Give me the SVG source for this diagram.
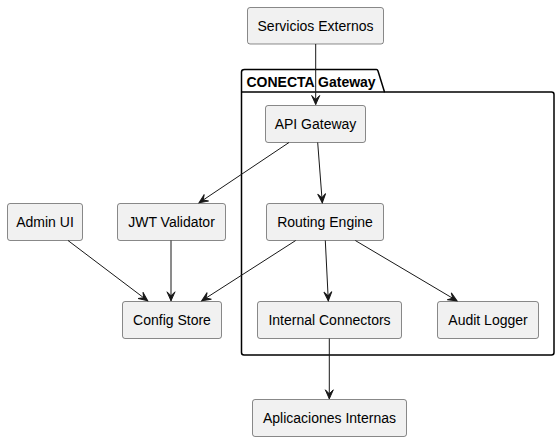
<svg xmlns="http://www.w3.org/2000/svg" width="560" height="441" viewBox="0 0 560 441">
<style>
.node rect{fill:#F1F1F1;stroke:#181818;stroke-width:0.5}
.node text{font-family:"Liberation Sans",Arial,sans-serif;font-size:14px;fill:#000;text-anchor:middle}
.conn line{stroke:#181818;stroke-width:1}
.pkg{fill:none;stroke:#000;stroke-width:1.5}
.pkgt{font-family:"Liberation Sans",Arial,sans-serif;font-size:14px;font-weight:bold;fill:#000}
</style>
<defs>
<marker id="ah" markerUnits="userSpaceOnUse" markerWidth="12" markerHeight="12" viewBox="-10 -6 12 12" refX="0" refY="0" orient="auto">
<path d="M0,0 L-9,-4 L-5,0 L-9,4 Z" fill="#181818" stroke="#181818" stroke-width="1" stroke-linejoin="miter"/>
</marker>
</defs>
<rect width="560" height="441" fill="#fff"/>
<g id="pkg-conecta">
<path class="pkg" d="M244.5,69.5 L376.5,69.5 Q377.5,69.5 378,71 L384.5,92 L551.5,92 Q554,92 554,94.5 L554,352.5 Q554,355 551.5,355 L244,355 Q241.5,355 241.5,352.5 L241.5,72 Q241.5,69.5 244.5,69.5 Z"/>
<line x1="241.5" y1="92" x2="384.5" y2="92" class="pkg"/>
<text class="pkgt" x="246.5" y="86.5">CONECTA Gateway</text>
</g>
<g id="servicios-externos" class="node"><rect x="247.5" y="7.5" width="136" height="36.5" rx="2.5"/><text x="315.5" y="31">Servicios Externos</text></g>
<g id="api-gateway" class="node"><rect x="265.5" y="105.5" width="100" height="37" rx="2.5"/><text x="315.5" y="129">API Gateway</text></g>
<g id="admin-ui" class="node"><rect x="7.5" y="203.5" width="75" height="37" rx="2.5"/><text x="45" y="227">Admin UI</text></g>
<g id="jwt-validator" class="node"><rect x="117.5" y="203.5" width="108" height="37" rx="2.5"/><text x="171.5" y="227">JWT Validator</text></g>
<g id="routing-engine" class="node"><rect x="266.5" y="203.5" width="117" height="37" rx="2.5"/><text x="325" y="227">Routing Engine</text></g>
<g id="config-store" class="node"><rect x="122.5" y="301.5" width="99" height="37" rx="2.5"/><text x="172" y="325">Config Store</text></g>
<g id="internal-connectors" class="node"><rect x="257.5" y="301.5" width="144" height="37" rx="2.5"/><text x="329.5" y="325">Internal Connectors</text></g>
<g id="audit-logger" class="node"><rect x="437.5" y="301.5" width="101" height="37" rx="2.5"/><text x="488" y="325">Audit Logger</text></g>
<g id="aplicaciones-internas" class="node"><rect x="252.5" y="399.5" width="154" height="37" rx="2.5"/><text x="329.5" y="423">Aplicaciones Internas</text></g>
<g id="connectors" class="conn">
<line x1="315.7" y1="44" x2="315.7" y2="104.5" marker-end="url(#ah)"/>
<line x1="289" y1="142.5" x2="199" y2="202.8" marker-end="url(#ah)"/>
<line x1="317.7" y1="142.5" x2="322.3" y2="202.8" marker-end="url(#ah)"/>
<line x1="68" y1="240.5" x2="147.7" y2="300.8" marker-end="url(#ah)"/>
<line x1="171" y1="240.5" x2="171" y2="300.8" marker-end="url(#ah)"/>
<line x1="295.7" y1="240.5" x2="201.7" y2="300.8" marker-end="url(#ah)"/>
<line x1="325.3" y1="240.5" x2="328.3" y2="300.8" marker-end="url(#ah)"/>
<line x1="355.3" y1="240.5" x2="457" y2="300.8" marker-end="url(#ah)"/>
<line x1="329.3" y1="338.5" x2="329.3" y2="398.8" marker-end="url(#ah)"/>
</g>
</svg>
